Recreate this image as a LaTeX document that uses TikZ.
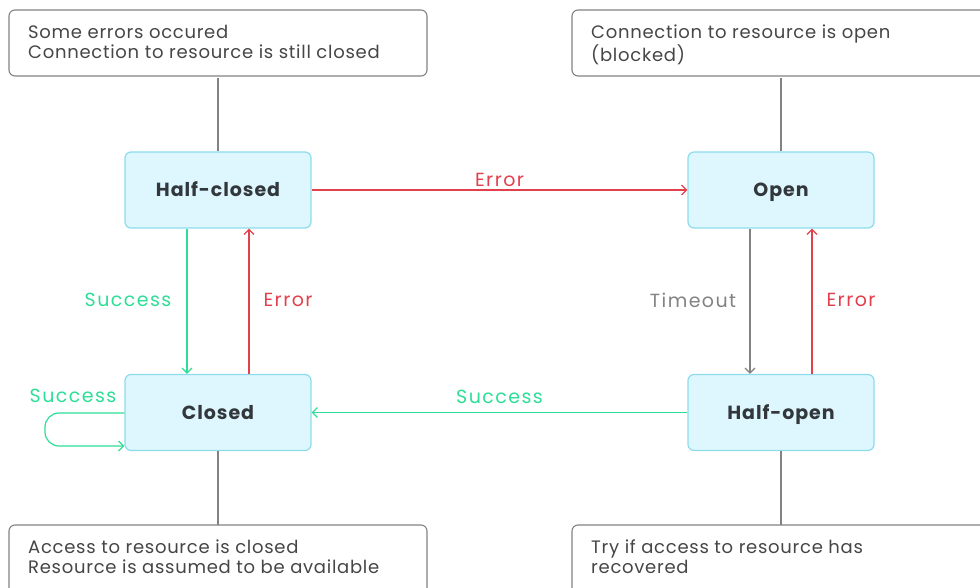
\documentclass[tikz,border=0pt]{standalone}
\usepackage{fontspec}
\setmainfont{Poppins}
\usetikzlibrary{arrows.meta}
\definecolor{okgreen}{RGB}{46,222,150}
\definecolor{errred}{RGB}{226,64,76}
\definecolor{tgray}{RGB}{130,130,130}
\definecolor{nfill}{RGB}{222,246,253}
\definecolor{nborder}{RGB}{140,220,236}
\definecolor{txt}{RGB}{50,55,60}
\definecolor{notetxt}{RGB}{70,70,70}
\tikzset{
  state/.style={draw=nborder, fill=nfill, line width=1.2pt, rounded corners=6pt,
    minimum width=186pt, minimum height=76pt, text height=13pt, text depth=0pt,
    font=\fontsize{19}{20}\selectfont\bfseries\addfontfeature{LetterSpace=5}, text=txt},
  note/.style={draw=tgray, line width=1.1pt, rounded corners=6pt, fill=white},
  notetext/.style={anchor=north west, align=left, font=\fontsize{18}{20}\selectfont\addfontfeature{LetterSpace=4}, text=notetxt, inner sep=0pt},
  link/.style={draw=tgray, line width=1.1pt},
  arr/.style={line width=1.2pt, -{Straight Barb[length=5pt,width=10pt]}},
  lbl/.style={font=\fontsize{19}{20}\selectfont\addfontfeature{LetterSpace=7.5}, inner sep=0pt}
}
\begin{document}
\begin{tikzpicture}[x=1pt,y=-1pt]
\useasboundingbox (0,0) rectangle (980,588);
\clip (0,0) rectangle (980,588);
% notes
\draw[note] (9,10) rectangle (427,76);
\node[notetext] (n1) at (28,25) {Some errors occured\\Connection to resource is still closed};
\draw[note] (572,10) rectangle (1000,76);
\node[notetext] (n2) at (591,25) {Connection to resource is open\\(blocked)};
\draw[note] (9,525) rectangle (427,620);
\node[notetext] (n3) at (28,540) {Access to resource is closed\\Resource is assumed to be available};
\draw[note] (572,525) rectangle (1000,620);
\node[notetext] (n4) at (591,540) {Try if access to resource has\\recovered};
\coordinate (t1) at (218,78);
\coordinate (t2) at (781,78);
\coordinate (b1) at (218,525);
\coordinate (b2) at (781,525);
% states
\node[state] (hc) at (218,190) {Half-closed};
\node[state] (op) at (781,190) {Open};
\node[state] (cl) at (218,412.5) {Closed};
\node[state] (ho) at (781,412.5) {Half-open};
% links to notes
\draw[link] (t1) -- (hc.north);
\draw[link] (t2) -- (op.north);
\draw[link] (cl.south) -- (b1);
\draw[link] (ho.south) -- (b2);
% transitions
\draw[arr, errred] (hc.east) -- node[lbl, text=errred, above=3pt]{Error} (op.west);
\draw[arr, okgreen] (hc.south -| 187,0) -- (cl.north -| 187,0);
\node[lbl, text=okgreen] (ls1) at (128,300) {Success};
\draw[arr, errred] (cl.north -| 249,0) -- (hc.south -| 249,0);
\node[lbl, text=errred] (le1) at (288,300) {Error};
\draw[arr, tgray] (op.south -| 750,0) -- (ho.north -| 750,0);
\node[lbl, text=tgray] (lt) at (693,300) {Timeout};
\draw[arr, errred] (ho.north -| 812,0) -- (op.south -| 812,0);
\node[lbl, text=errred] (le2) at (851,300) {Error};
\draw[arr, okgreen] (ho.west) -- node[lbl, text=okgreen, above=8pt]{Success} (cl.west -| cl.east);
\node[lbl, text=okgreen] (ls2) at (73,396) {Success};
\draw[arr, okgreen, rounded corners=14pt] (cl.west |- 0,413) -- (45,413) -- (45,446) -- (cl.west |- 0,446);
\end{tikzpicture}
\end{document}
